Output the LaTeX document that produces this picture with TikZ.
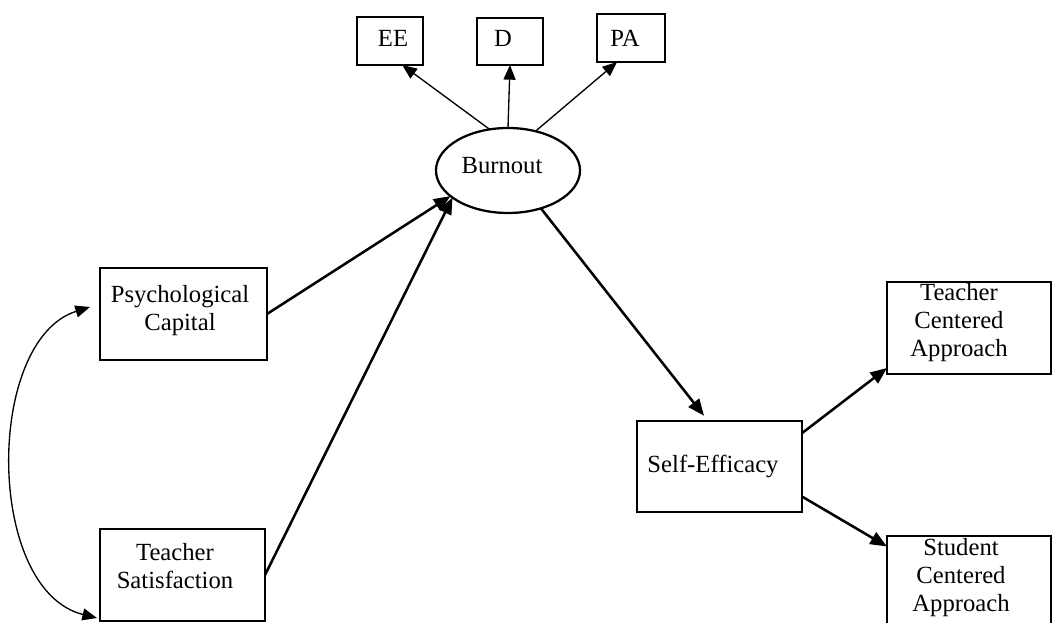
\documentclass[tikz,border=0pt]{standalone}
\usepackage{fontspec}
\setmainfont{Liberation Serif}
\usetikzlibrary{arrows.meta,shapes.geometric}
\begin{document}
\begin{tikzpicture}[x=0.75pt,y=-0.75pt,
  box/.style={draw,line width=1.7pt,inner sep=0pt,outer sep=0pt},
  lbl/.style={font=\fontsize{18.5}{21}\selectfont,align=center,inner sep=0pt},
  thick arr/.style={line width=1.9pt,-{Triangle[length=12.5pt,width=10pt]}},
  thin arr/.style={line width=1pt,-{Triangle[length=11pt,width=9pt]}}]
\useasboundingbox (0,0) rectangle (1053,623);
% boxes
\node[box,minimum width=49.5pt,minimum height=36pt] (ee) at (390,41) {};
\node[box,minimum width=49.5pt,minimum height=35.25pt] (d) at (510,41.5) {};
\node[box,minimum width=51pt,minimum height=36pt] (pa) at (631,38) {};
\node[box,ellipse,minimum width=108pt,minimum height=63.75pt] (bo) at (508,170.5) {};
\node[box,minimum width=125.25pt,minimum height=69pt] (pc) at (183.5,314) {};
\node[box,minimum width=123.75pt,minimum height=69pt] (ts) at (182.5,575) {};
\node[box,minimum width=123.75pt,minimum height=68.25pt] (se) at (719.5,466.5) {};
\node[box,minimum width=123pt,minimum height=69pt] (tca) at (969,328) {};
\node[box,minimum width=123pt,minimum height=70.5pt] (sca) at (969,583) {};
% texts
\node[lbl] (eet) at (393,38) {EE};
\node[lbl] (dt) at (503,38) {D};
\node[lbl] (pat) at (625,38) {PA};
\node[lbl] (bot) at (502,166) {Burnout};
\node[lbl] (pct) at (180,311) {Psychological\\Capital};
\node[lbl] (tst) at (175,566) {Teacher\\Satisfaction};
\node[lbl] (set) at (713,466) {Self-Efficacy};
\node[lbl] (tcat) at (959,323) {Teacher\\Centered\\Approach};
\node[lbl] (scat) at (961,578) {Student\\Centered\\Approach};
% connectors
\draw[thin arr] (bo.114) -- (ee.-63);
\draw[thin arr] (bo.90) -- (d.south);
\draw[thin arr] (bo.55) -- (pa.-120);
\draw[thick arr] (pc.east) -- (bo.204);
\draw[thick arr] (ts.east) -- (bo.206);
\draw[thick arr,shorten >=5pt] (bo.311) -- (se.104);
\draw[thick arr] (se.22.7) -- (tca.206.6);
\draw[thick arr] (se.-20.3) -- (sca.156.5);
\coordinate (ca) at (90,307);
\coordinate (cb) at (97,618);
\draw[line width=1pt,{Triangle[length=11pt,width=9pt]}-{Triangle[length=11pt,width=9pt]}]
  (ca) .. controls (-15,340) and (-15,590) .. (cb);
\end{tikzpicture}
\end{document}
